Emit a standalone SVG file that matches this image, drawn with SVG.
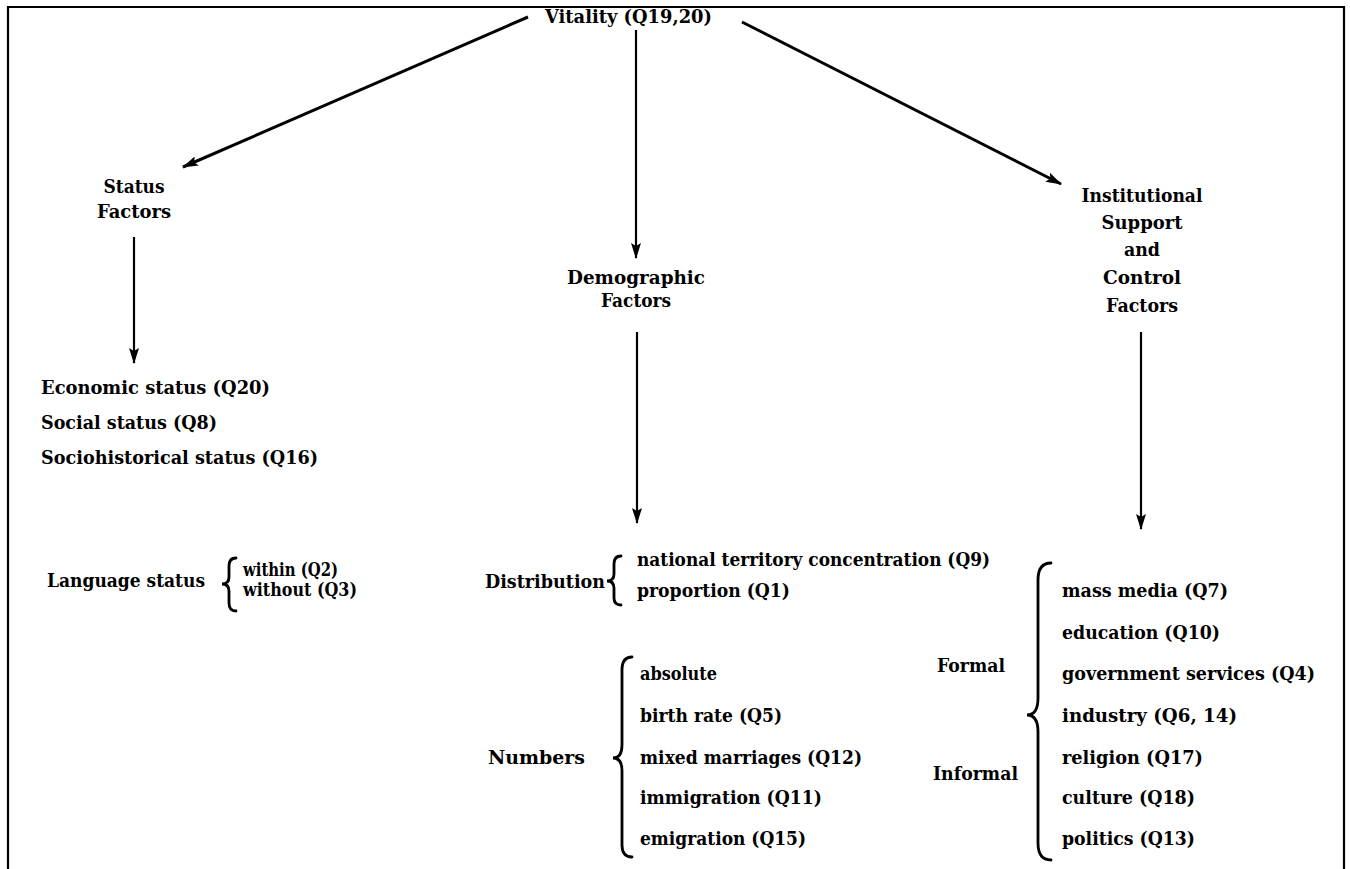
<svg xmlns="http://www.w3.org/2000/svg" width="1350" height="869" viewBox="0 0 1350 869">
<defs>
<marker id="ah" viewBox="0 0 16 10" refX="15" refY="5" markerWidth="16" markerHeight="10" markerUnits="userSpaceOnUse" orient="auto">
<path d="M0,0 L16,5 L0,10 L3,5 Z" fill="#000"/>
</marker>
<style>
text{font-family:"DejaVu Serif","Liberation Serif",serif;font-weight:bold;font-size:18px;fill:#000}
.c{text-anchor:middle}
.ln{stroke:#000;stroke-width:2.2;fill:none}
.d{stroke-width:3}
.br{stroke:#000;stroke-width:2.8;fill:none;stroke-linecap:round}
</style>
</defs>
<rect width="1350" height="869" fill="#fff"/>
<g id="frame">
<path class="ln" d="M8,869 L8,7 L1344,7 L1344,869" stroke-width="2.5"/>
</g>
<g id="connectors">
<line class="ln d" x1="528" y1="17" x2="183" y2="167" marker-end="url(#ah)"/>
<line class="ln" x1="636" y1="30" x2="636" y2="258" marker-end="url(#ah)"/>
<line class="ln d" x1="742" y1="22" x2="1061" y2="184" marker-end="url(#ah)"/>
<line class="ln" x1="134" y1="237" x2="134" y2="363" marker-end="url(#ah)"/>
<line class="ln" x1="637" y1="332" x2="637" y2="523" marker-end="url(#ah)"/>
<line class="ln" x1="1141" y1="332" x2="1141" y2="529" marker-end="url(#ah)"/>
</g>
<g id="vitality"><text x="545" y="23" textLength="167" lengthAdjust="spacingAndGlyphs">Vitality (Q19,20)</text></g>
<g id="status-factors">
<text class="c" x="134" y="193" textLength="61" lengthAdjust="spacingAndGlyphs">Status</text>
<text class="c" x="134" y="218" textLength="74" lengthAdjust="spacingAndGlyphs">Factors</text>
</g>
<g id="status-list">
<text x="41" y="394" textLength="229" lengthAdjust="spacingAndGlyphs">Economic status (Q20)</text>
<text x="41" y="429" textLength="176" lengthAdjust="spacingAndGlyphs">Social status (Q8)</text>
<text x="41" y="464" textLength="277" lengthAdjust="spacingAndGlyphs">Sociohistorical status (Q16)</text>
</g>
<g id="language-status">
<text x="47" y="587" textLength="158" lengthAdjust="spacingAndGlyphs">Language status</text>
<path class="br" d="M236,558 Q229,558 229,566 L229,577 Q229,584 222,584 Q229,584 229,591 L229,603 Q229,611 236,611"/>
<text x="243" y="576" textLength="95" lengthAdjust="spacingAndGlyphs">within (Q2)</text>
<text x="243" y="596" textLength="114" lengthAdjust="spacingAndGlyphs">without (Q3)</text>
</g>
<g id="demographic-factors">
<text class="c" x="636" y="284" textLength="138" lengthAdjust="spacingAndGlyphs">Demographic</text>
<text class="c" x="636" y="307" textLength="70" lengthAdjust="spacingAndGlyphs">Factors</text>
</g>
<g id="distribution">
<text x="485" y="588" textLength="120" lengthAdjust="spacingAndGlyphs">Distribution</text>
<path class="br" d="M621,556 Q614,556 614,564 L614,574 Q614,581 607,581 Q614,581 614,588 L614,598 Q614,605 621,605"/>
<text x="637" y="566" textLength="353" lengthAdjust="spacingAndGlyphs">national territory concentration (Q9)</text>
<text x="637" y="597" textLength="153" lengthAdjust="spacingAndGlyphs">proportion (Q1)</text>
</g>
<g id="numbers">
<text x="488" y="764" textLength="97" lengthAdjust="spacingAndGlyphs">Numbers</text>
<path class="br" d="M632,657 Q622,657 622,670 L622,745 Q622,758 613,758 Q622,758 622,771 L622,845 Q622,857 632,857"/>
<text x="640" y="680" textLength="77" lengthAdjust="spacingAndGlyphs">absolute</text>
<text x="640" y="722" textLength="142" lengthAdjust="spacingAndGlyphs">birth rate (Q5)</text>
<text x="640" y="764" textLength="222" lengthAdjust="spacingAndGlyphs">mixed marriages (Q12)</text>
<text x="640" y="804" textLength="182" lengthAdjust="spacingAndGlyphs">immigration (Q11)</text>
<text x="640" y="845" textLength="166" lengthAdjust="spacingAndGlyphs">emigration (Q15)</text>
</g>
<g id="institutional-factors">
<text class="c" x="1142" y="202" textLength="121" lengthAdjust="spacingAndGlyphs">Institutional</text>
<text class="c" x="1142" y="229" textLength="81" lengthAdjust="spacingAndGlyphs">Support</text>
<text class="c" x="1142" y="256" textLength="36" lengthAdjust="spacingAndGlyphs">and</text>
<text class="c" x="1142" y="284" textLength="78" lengthAdjust="spacingAndGlyphs">Control</text>
<text class="c" x="1142" y="312" textLength="72" lengthAdjust="spacingAndGlyphs">Factors</text>
</g>
<g id="institutional-list">
<text x="937" y="672" textLength="68" lengthAdjust="spacingAndGlyphs">Formal</text>
<text x="933" y="780" textLength="85" lengthAdjust="spacingAndGlyphs">Informal</text>
<path class="br" d="M1051,563 Q1038,563 1038,580 L1038,698 Q1038,715 1027,715 Q1038,715 1038,732 L1038,843 Q1038,860 1051,860"/>
<text x="1062" y="597" textLength="166" lengthAdjust="spacingAndGlyphs">mass media (Q7)</text>
<text x="1062" y="639" textLength="158" lengthAdjust="spacingAndGlyphs">education (Q10)</text>
<text x="1062" y="680" textLength="253" lengthAdjust="spacingAndGlyphs">government services (Q4)</text>
<text x="1062" y="722" textLength="175" lengthAdjust="spacingAndGlyphs">industry (Q6, 14)</text>
<text x="1062" y="764" textLength="141" lengthAdjust="spacingAndGlyphs">religion (Q17)</text>
<text x="1062" y="804" textLength="133" lengthAdjust="spacingAndGlyphs">culture (Q18)</text>
<text x="1062" y="845" textLength="133" lengthAdjust="spacingAndGlyphs">politics (Q13)</text>
</g>
</svg>
